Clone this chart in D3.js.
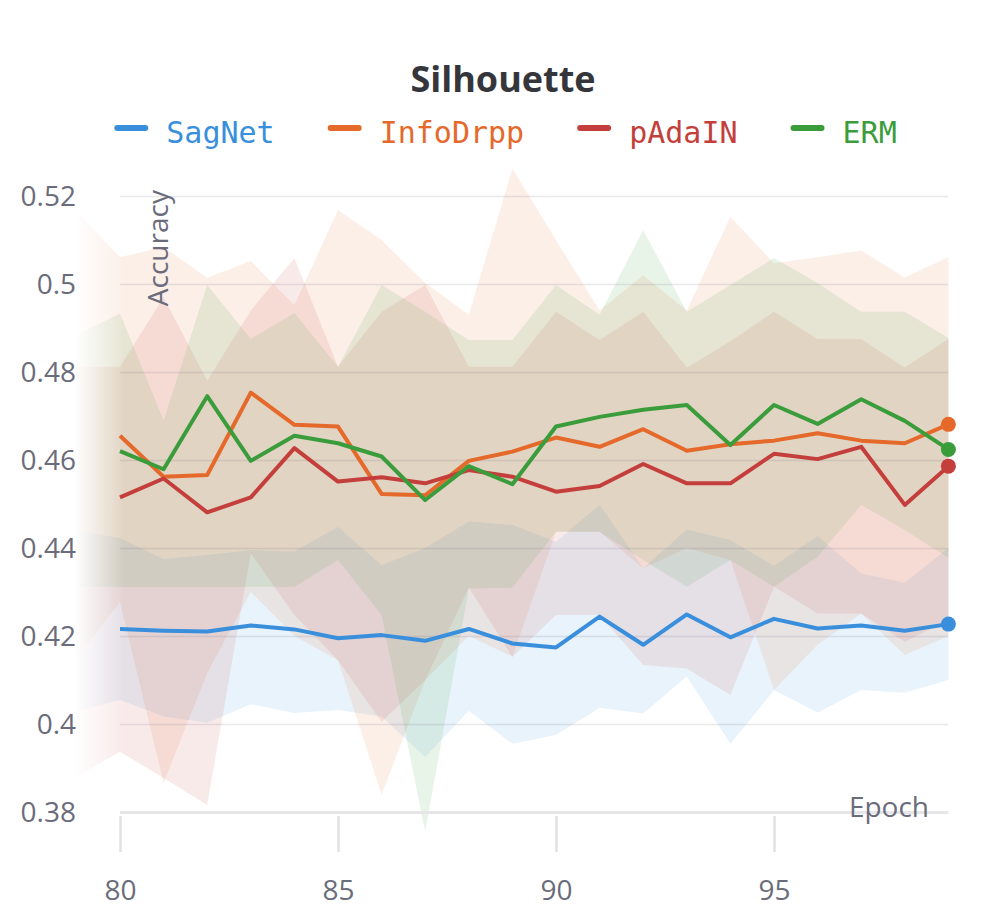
<!DOCTYPE html>
<html>
<head>
<meta charset="utf-8">
<script src="https://cdn.jsdelivr.net/npm/d3@7"></script>
<style>
  html, body { margin: 0; padding: 0; background: #fff; }
  svg { display: block; }
</style>
</head>
<body>
<svg id="chart" width="1008" height="924"></svg>
<script>
// epochs for the mean lines and for the shaded bands (bands start one epoch earlier, faded out)
const epochs = [80, 81, 82, 83, 84, 85, 86, 87, 88, 89, 90, 91, 92, 93, 94, 95, 96, 97, 98, 99];
const bandEpochs = [79, 80, 81, 82, 83, 84, 85, 86, 87, 88, 89, 90, 91, 92, 93, 94, 95, 96, 97, 98, 99];

const seriesNames = ['SagNet', 'InfoDrpp', 'pAdaIN', 'ERM'];

const sagnet = [0.4216, 0.4212, 0.4210, 0.4224, 0.4215, 0.4195, 0.4202, 0.4189, 0.4216, 0.4183,
                0.4174, 0.4244, 0.4180, 0.4249, 0.4197, 0.4239, 0.4217, 0.4224, 0.4212, 0.4227];
const infodrpp = [0.4655, 0.4562, 0.4566, 0.4753, 0.4680, 0.4676, 0.4523, 0.4520, 0.4598, 0.4619,
                  0.4651, 0.4630, 0.4670, 0.4621, 0.4636, 0.4644, 0.4661, 0.4644, 0.4638, 0.4681];
const padain = [0.4515, 0.4558, 0.4481, 0.4515, 0.4627, 0.4551, 0.4561, 0.4547, 0.4577, 0.4562,
                0.4528, 0.4541, 0.4591, 0.4547, 0.4547, 0.4614, 0.4602, 0.4630, 0.4498, 0.4586];
const erm = [0.4620, 0.4579, 0.4745, 0.4598, 0.4655, 0.4638, 0.4608, 0.4509, 0.4586, 0.4545,
             0.4676, 0.4698, 0.4714, 0.4725, 0.4634, 0.4725, 0.4682, 0.4738, 0.4689, 0.4624];

// band edges, epochs 79..99
const sagnetLo = [0.4028, 0.4055, 0.4017, 0.4003, 0.4045, 0.4025, 0.4032, 0.4017, 0.3925, 0.4030, 0.3955,
                  0.3975, 0.4037, 0.4024, 0.4108, 0.3955, 0.4077, 0.4026, 0.4077, 0.4071, 0.4100];
const sagnetHi = [0.4441, 0.4422, 0.4375, 0.4384, 0.4395, 0.4392, 0.4448, 0.4361, 0.4400, 0.4460, 0.4452,
                  0.4414, 0.4498, 0.4354, 0.4442, 0.4418, 0.4359, 0.4427, 0.4342, 0.4321, 0.4400];
const infodrppLo = [0.4150, 0.4278, 0.3866, 0.4116, 0.4300, 0.4200, 0.4145, 0.3839, 0.4100, 0.4200, 0.4153,
                    0.4437, 0.4437, 0.4354, 0.4400, 0.4373, 0.4077, 0.4180, 0.4251, 0.4157, 0.4200];
const infodrppHi = [0.5165, 0.5061, 0.5084, 0.5014, 0.5052, 0.4952, 0.5168, 0.5100, 0.5002, 0.4930, 0.5262,
                    0.5100, 0.4940, 0.5020, 0.4940, 0.5153, 0.5047, 0.5061, 0.5076, 0.5015, 0.5061];
const padainLo = [0.3880, 0.3937, 0.3877, 0.3816, 0.4388, 0.4248, 0.4145, 0.4005, 0.4100, 0.4310, 0.4153,
                  0.4248, 0.4248, 0.4134, 0.4126, 0.4066, 0.4312, 0.4251, 0.4251, 0.4187, 0.4236];
const padainHi = [0.4812, 0.4812, 0.4970, 0.4780, 0.4940, 0.5059, 0.4812, 0.4937, 0.4998, 0.4812, 0.4812,
                  0.4937, 0.4873, 0.4937, 0.4810, 0.4870, 0.4937, 0.4875, 0.4875, 0.4810, 0.4875];
const ermLo = [0.4312, 0.4312, 0.4312, 0.4312, 0.4312, 0.4312, 0.4373, 0.4248, 0.3755, 0.4308, 0.4310,
               0.4437, 0.4437, 0.4373, 0.4312, 0.4373, 0.4312, 0.4380, 0.4498, 0.4441, 0.4377];
const ermHi = [0.4884, 0.4933, 0.4690, 0.4998, 0.4875, 0.4934, 0.4812, 0.4998, 0.4937, 0.4873, 0.4873,
               0.4998, 0.4930, 0.5123, 0.4937, 0.4998, 0.5059, 0.5002, 0.4937, 0.4937, 0.4877];

const yTicks = [0.38, 0.4, 0.42, 0.44, 0.46, 0.48, 0.5, 0.52];
const xTicks = [80, 85, 90, 95];

const colors = {
    SagNet: '#3a8fdc',
    InfoDrpp: '#e5692b',
    pAdaIN: '#c43f3c',
    ERM: '#3b9c3b',
};

const series = [
    {name: 'SagNet', mean: sagnet, lo: sagnetLo, hi: sagnetHi},
    {name: 'InfoDrpp', mean: infodrpp, lo: infodrppLo, hi: infodrppHi},
    {name: 'pAdaIN', mean: padain, lo: padainLo, hi: padainHi},
    {name: 'ERM', mean: erm, lo: ermLo, hi: ermHi},
];

const marginLeft = 120, plotRight = 948.4, yTop = 196, yBottom = 812;
const font = '"Open Sans", "Noto Sans", sans-serif';
const textColor = '#6b6c7b';

const svg = d3.select('#chart');

const x = d3.scaleLinear().domain([80, 99]).range([marginLeft, plotRight]);
const y = d3.scaleLinear().domain([0.38, 0.52]).range([yBottom, yTop]);

// bands
const area = d3.area()
    .x((d, i) => x(bandEpochs[i]))
    .y0(d => y(d[0]))
    .y1(d => y(d[1]));

svg.append('g')
    .selectAll('path')
    .data(series)
    .join('path')
        .attr('fill', d => colors[d.name])
        .attr('fill-opacity', 0.11)
        .attr('d', d => area(d.lo.map((v, i) => [v, d.hi[i]])));

// fade on the left edge
const defs = svg.append('defs');
const grad = defs.append('linearGradient')
    .attr('id', 'fade')
    .attr('x1', '0').attr('x2', '1').attr('y1', '0').attr('y2', '0');
grad.append('stop').attr('offset', '0').attr('stop-color', '#fff').attr('stop-opacity', 1);
grad.append('stop').attr('offset', '0.6').attr('stop-color', '#fff').attr('stop-opacity', 1);
grad.append('stop').attr('offset', '1').attr('stop-color', '#fff').attr('stop-opacity', 0);
svg.append('rect')
    .attr('x', 0).attr('y', 150)
    .attr('width', 124).attr('height', 700)
    .attr('fill', 'url(#fade)');

// horizontal grid
svg.append('g')
    .attr('transform', `translate(${marginLeft},0)`)
    .call(d3.axisLeft(y).tickValues(yTicks).tickSize(-(plotRight - marginLeft)).tickFormat(''))
    .call(g => g.select('.domain').remove())
    .call(g => g.selectAll('.tick line')
        .attr('stroke', d => d === 0.38 ? '#e6e6e8' : '#5a5a70')
        .attr('stroke-opacity', d => d === 0.38 ? 1 : 0.14)
        .attr('stroke-width', d => d === 0.38 ? 3 : 1.6));

// y tick labels
svg.append('g')
    .attr('transform', 'translate(76,0)')
    .call(d3.axisLeft(y).tickValues(yTicks).tickSize(0).tickPadding(0).tickFormat(d3.format('~g')))
    .call(g => g.select('.domain').remove())
    .call(g => g.selectAll('.tick text')
        .attr('font-family', font)
        .attr('font-size', 28)
        .attr('fill', textColor)
        .attr('dy', '0.34em'));

// x axis ticks and labels
svg.append('g')
    .attr('transform', 'translate(0,816)')
    .call(d3.axisBottom(x).tickValues(xTicks).tickSize(36).tickPadding(28).tickFormat(d3.format('d')))
    .call(g => g.select('.domain').remove())
    .call(g => g.selectAll('.tick line').attr('stroke', '#e2e2e4').attr('stroke-width', 2.5))
    .call(g => g.selectAll('.tick text')
        .attr('font-family', font)
        .attr('font-size', 28)
        .attr('fill', textColor));

// axis titles
svg.append('text')
    .attr('transform', 'translate(168,190) rotate(-90)')
    .attr('text-anchor', 'end')
    .attr('font-family', font)
    .attr('font-size', 28)
    .attr('fill', textColor)
    .text('Accuracy');

svg.append('text')
    .attr('x', 929).attr('y', 817)
    .attr('text-anchor', 'end')
    .attr('font-family', font)
    .attr('font-size', 28)
    .attr('fill', textColor)
    .text('Epoch');

// mean lines
const line = d3.line()
    .x((d, i) => x(epochs[i]))
    .y(d => y(d));

svg.append('g')
    .attr('fill', 'none')
    .attr('stroke-width', 4)
    .attr('stroke-linejoin', 'round')
    .selectAll('path')
    .data(series)
    .join('path')
        .attr('stroke', d => colors[d.name])
        .attr('d', d => line(d.mean));

// end dots
svg.append('g')
    .selectAll('circle')
    .data(series)
    .join('circle')
        .attr('cx', x(epochs[epochs.length - 1]))
        .attr('cy', d => y(d.mean[d.mean.length - 1]))
        .attr('r', 7.5)
        .attr('fill', d => colors[d.name]);

// title
svg.append('text')
    .attr('x', 503).attr('y', 92)
    .attr('text-anchor', 'middle')
    .attr('font-family', font)
    .attr('font-weight', 700)
    .attr('font-size', 36)
    .attr('fill', '#35363b')
    .text('Silhouette');

// legend
const legend = svg.append('g').attr('font-family', '"DejaVu Sans Mono", "Liberation Mono", monospace').attr('font-size', 30);
const items = legend.selectAll('g')
    .data(seriesNames)
    .join('g');
items.append('line')
    .attr('x1', 0).attr('x2', 28)
    .attr('y1', 128).attr('y2', 128)
    .attr('stroke', d => colors[d])
    .attr('stroke-width', 6)
    .attr('stroke-linecap', 'round');
items.append('text')
    .attr('x', 49).attr('y', 143)
    .attr('fill', d => colors[d])
    .text(d => d);

const widths = [];
items.each(function() { widths.push(49 + d3.select(this).select('text').node().getComputedTextLength()); });
const totalW = d3.sum(widths) + 56 * (widths.length - 1);
let cursor = 507 - totalW / 2;
items.attr('transform', (d, i) => {
    const t = `translate(${cursor},0)`;
    cursor += widths[i] + 56;
    return t;
});
</script>
</body>
</html>
